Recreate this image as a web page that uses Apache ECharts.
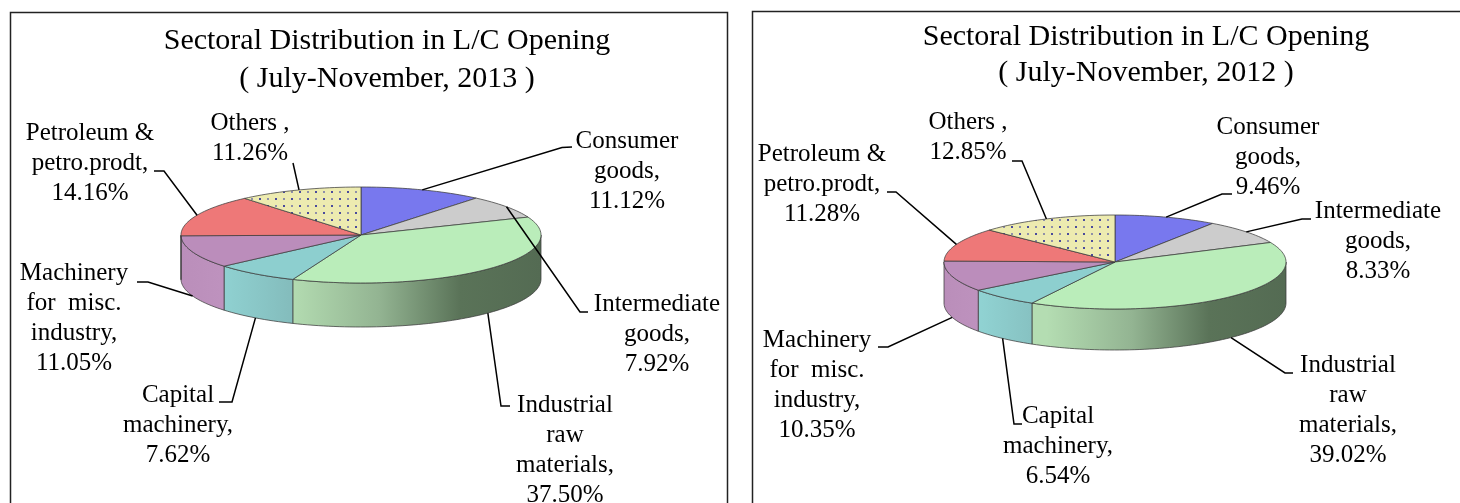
<!DOCTYPE html>
<html>
<head>
<meta charset="utf-8">
<style>html,body{margin:0;padding:0;background:#fff}#c{width:1460px;height:503px;filter:blur(0.4px)}</style>
<script src="https://cdn.jsdelivr.net/npm/echarts@6/dist/echarts.min.js"></script>
</head>
<body>
<div id="c"></div>
<script>
// ---- data ----
const categories = ['Consumer\ngoods,', 'Intermediate\ngoods,', 'Industrial\nraw\nmaterials,', 'Capital\nmachinery,', 'Machinery\nfor  misc.\nindustry,', 'Petroleum &\npetro.prodt,', 'Others ,'];
const values2013 = [11.12, 7.92, 37.50, 7.62, 11.05, 14.16, 11.26];
const values2012 = [9.46, 8.33, 39.02, 6.54, 10.35, 11.28, 12.85];
const title2013 = 'Sectoral Distribution in L/C Opening\n( July-November, 2013 )';
const title2012 = 'Sectoral Distribution in L/C Opening\n( July-November, 2012 )';

// ---- layout & style ----
const pie2013 = {cx: 361, cy: 235, rx: 180, ry: 48, depth: 44};
const pie2012 = {cx: 1115, cy: 262, rx: 171, ry: 47, depth: 41};
const labelPos2013 = [[627,171],[657,334.5],[565,450],[178,425],[74,318.5],[90,163],[250,138.5]];
const labelPos2012 = [[1268,157],[1378,241],[1348,410],[1058,446],[817,385.5],[822,184.5],[968,137.5]];
const leader2013 = [[[562,147.5],[572,147]],[[580,312],[588,312]],[[501,406],[510,406]],[[232,402],[219,402]],[[148,282],[137,282]],[[164,171],[154,171]],[[293,163]]];
const leader2012 = [[[1222,194],[1232,194]],[[1302,219],[1311,219]],[[1285,373],[1293,373]],[[1014,424],[1022,424]],[[888,347],[878,347]],[[896,192],[887,192]],[[1022,161],[1012,161]]];
const topColors = ['#7878EE', '#CCCCCC', '#BAEDBA', '#8DCFCF', '#BB8DBB', '#EE7878', null];
const wallStops = [
  [[0,'#7878EE'],[1,'#7878EE']],
  [[0,'#CCCCCC'],[1,'#CCCCCC']],
  [[0,'#B4DDB2'],[0.30,'#B4DDB2'],[0.55,'#93B492'],[0.775,'#5A7358'],[1,'#546B53']],
  [[0,'#90D2D2'],[0.11,'#90D2D2'],[0.30,'#84BDBD'],[1,'#84BDBD']],
  [[0,'#BA8EBA'],[0.11,'#BE92BE'],[1,'#BE92BE']],
  [[0,'#EE7878'],[1,'#EE7878']],
  [[0,'#EEEEAA'],[1,'#EEEEAA']]
];
const edge = 'rgba(60,60,60,0.75)';
const serif = '"Liberation Serif", "Times New Roman", serif';

// dotted fill for the "Others" slice
const dots = document.createElement('canvas');
dots.width = 16; dots.height = 14;
(function () {
  const g = dots.getContext('2d');
  g.fillStyle = '#EDEBB0'; g.fillRect(0, 0, 16, 14);
  g.fillStyle = '#4a4a9c';
  [[3,2],[11,9]].forEach(p => g.fillRect(p[0], p[1], 2, 2));
  g.fillStyle = '#8f8fa8';
  [[11,2],[3,9]].forEach(p => g.fillRect(p[0], p[1], 2, 2));
})();

// ---- geometry driven by the values ----
function cumulative(values) {
  const total = values.reduce((a, b) => a + b, 0);
  let run = 0;
  return values.map(v => { const s = run; run += v; return [s / total * 2 * Math.PI, run / total * 2 * Math.PI]; });
}
function rim(p, a, dy) { return [p.cx + p.rx * Math.sin(a), p.cy - p.ry * Math.cos(a) + (dy || 0)]; }
function arc(p, a0, a1, dy) {
  const pts = [], n = Math.max(2, Math.ceil((a1 - a0) / 0.03));
  for (let i = 0; i <= n; i++) pts.push(rim(p, a0 + (a1 - a0) * i / n, dy));
  return pts;
}
function pieSeries(values, p) {
  const spans = cumulative(values);
  return {
    type: 'custom', coordinateSystem: 'none', silent: true, clip: false,
    data: values,
    renderItem: function (params) {
      const i = params.dataIndex, s = spans[i], kids = [];
      const lo = Math.max(s[0], Math.PI / 2), hi = Math.min(s[1], 1.5 * Math.PI);
      if (hi > lo) {
        const wall = arc(p, lo, hi, 0).concat(arc(p, lo, hi, p.depth).reverse());
        const fill = new echarts.graphic.LinearGradient(p.cx - p.rx, 0, p.cx + p.rx, 0,
          wallStops[i].map(st => ({offset: st[0], color: st[1]})), true);
        kids.push({type: 'polygon', shape: {points: wall}, style: {fill: fill, stroke: edge, lineWidth: 1}});
      }
      const face = [[p.cx, p.cy]].concat(arc(p, s[0], s[1], 0));
      const fill = topColors[i] || {image: dots, repeat: 'repeat'};
      kids.push({type: 'polygon', shape: {points: face}, style: {fill: fill, stroke: edge, lineWidth: 1}});
      return {type: 'group', children: kids};
    }
  };
}
function labelSeries(values, p, pos, leader) {
  const spans = cumulative(values);
  return {
    type: 'custom', coordinateSystem: 'none', silent: true, clip: false, z: 5,
    data: values,
    renderItem: function (params, api) {
      const i = params.dataIndex, s = spans[i], mid = (s[0] + s[1]) / 2;
      const front = Math.cos(mid) < 0;
      const anchor = rim(p, mid, front ? p.depth : 0);
      return {type: 'group', children: [
        {type: 'polyline', shape: {points: [anchor].concat(leader[i])},
         style: {fill: 'none', stroke: '#000', lineWidth: 1.5}},
        {type: 'text', x: pos[i][0], y: pos[i][1],
         style: {text: categories[i] + '\n' + api.value(0).toFixed(2) + '%',
                 font: '25px ' + serif, fill: '#000', align: 'center', verticalAlign: 'middle',
                 textAlign: 'center', textVerticalAlign: 'middle', lineHeight: 30}}
      ]};
    }
  };
}

const chart = echarts.init(document.getElementById('c'), null, {renderer: 'canvas'});
chart.setOption({
  animation: false,
  backgroundColor: '#fff',
  title: [
    {text: title2013, left: 387, top: 22, textAlign: 'center', padding: 0,
     textStyle: {fontFamily: serif, fontWeight: 'normal', fontSize: 30, lineHeight: 38, color: '#000'}},
    {text: title2012, left: 1146, top: 19, textAlign: 'center', padding: 0,
     textStyle: {fontFamily: serif, fontWeight: 'normal', fontSize: 30, lineHeight: 36, color: '#000'}}
  ],
  graphic: [
    {type: 'rect', shape: {x: 10.5, y: 12.5, width: 717, height: 600}, style: {fill: 'none', stroke: '#222', lineWidth: 1.5}},
    {type: 'rect', shape: {x: 752.5, y: 11.5, width: 800, height: 600}, style: {fill: 'none', stroke: '#222', lineWidth: 1.5}}
  ],
  series: [
    pieSeries(values2013, pie2013),
    pieSeries(values2012, pie2012),
    labelSeries(values2013, pie2013, labelPos2013, leader2013),
    labelSeries(values2012, pie2012, labelPos2012, leader2012)
  ]
});
</script>
</body>
</html>
